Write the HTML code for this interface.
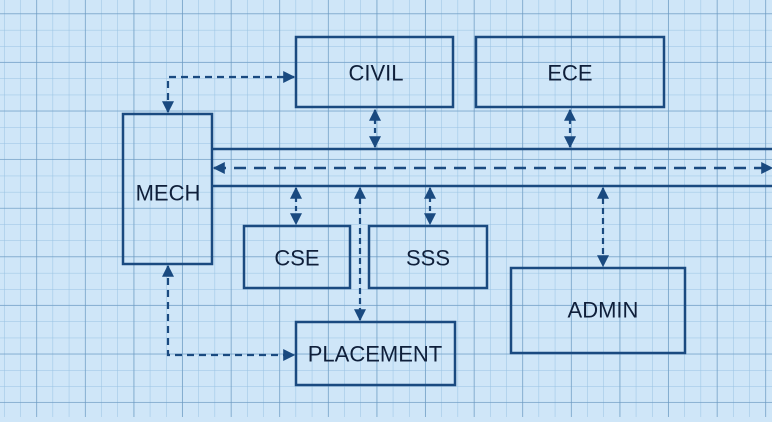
<!DOCTYPE html><html><head><style>html,body{margin:0;padding:0}body{width:772px;height:417px;overflow:hidden;background:#cfe6f8}</style></head><body>
<svg width="772" height="417" xmlns="http://www.w3.org/2000/svg">
<defs>
<pattern id="mi" x="4.5" y="-2" width="16.2" height="16.2" patternUnits="userSpaceOnUse"><path d="M16.2 0V16.2M0 16.2H16.2" stroke="#98c2e2" stroke-width="1" fill="none"/></pattern>
<pattern id="ma" x="-11.5" y="-34.5" width="48.6" height="48.6" patternUnits="userSpaceOnUse"><path d="M48.6 0V48.6M0 48.6H48.6" stroke="#6a98c0" stroke-width="1.3" fill="none"/></pattern>
<marker id="a" viewBox="0 0 10 10" refX="9" refY="5" markerWidth="12" markerHeight="12" orient="auto-start-reverse" markerUnits="userSpaceOnUse"><path d="M0 0L10 5L0 10z" fill="#1a4a80"/></marker>
</defs>
<rect width="772" height="417" fill="#cfe6f8"/>
<rect width="772" height="417" fill="url(#mi)"/>
<rect width="772" height="417" fill="url(#ma)"/>
<g fill="none" stroke="#1a4a80" stroke-width="2.5">
<rect x="296" y="37" width="157" height="70"/>
<rect x="476" y="37" width="188" height="70"/>
<rect x="123" y="114" width="89" height="150"/>
<rect x="244" y="226" width="106" height="62"/>
<rect x="369" y="226" width="118" height="62"/>
<rect x="511" y="268" width="174" height="85"/>
<rect x="296" y="322" width="159" height="63"/>
<path d="M212 149H772M212 186H772"/>
</g>
<g fill="none" stroke="#1a4a80" stroke-width="2.2" stroke-dasharray="7 5">
<path d="M168 112V77H294" marker-start="url(#a)" marker-end="url(#a)"/>
<path d="M168 266V355H294" marker-start="url(#a)" marker-end="url(#a)"/>
<path d="M214 168H772" marker-start="url(#a)" marker-end="url(#a)" stroke-width="2.5" stroke-dasharray="12 8"/>
<path d="M375 110V147" marker-start="url(#a)" marker-end="url(#a)" stroke-dasharray="5 4"/>
<path d="M570 110V147" marker-start="url(#a)" marker-end="url(#a)" stroke-dasharray="5 4"/>
<path d="M296 188V224" marker-start="url(#a)" marker-end="url(#a)" stroke-dasharray="5 4"/>
<path d="M430 188V224" marker-start="url(#a)" marker-end="url(#a)" stroke-dasharray="5 4"/>
<path d="M360 188V320" marker-start="url(#a)" marker-end="url(#a)" stroke-dasharray="6 4"/>
<path d="M603 188V266" marker-start="url(#a)" marker-end="url(#a)" stroke-dasharray="6 4"/>
</g>
<g font-family="Liberation Sans, sans-serif" font-size="22" fill="#0f1f3a" text-anchor="middle" dominant-baseline="central">
<text x="376" y="73">CIVIL</text>
<text x="570" y="73">ECE</text>
<text x="168" y="193">MECH</text>
<text x="297" y="258">CSE</text>
<text x="428" y="258">SSS</text>
<text x="603" y="310">ADMIN</text>
<text x="375" y="354">PLACEMENT</text>
</g>
</svg></body></html>
